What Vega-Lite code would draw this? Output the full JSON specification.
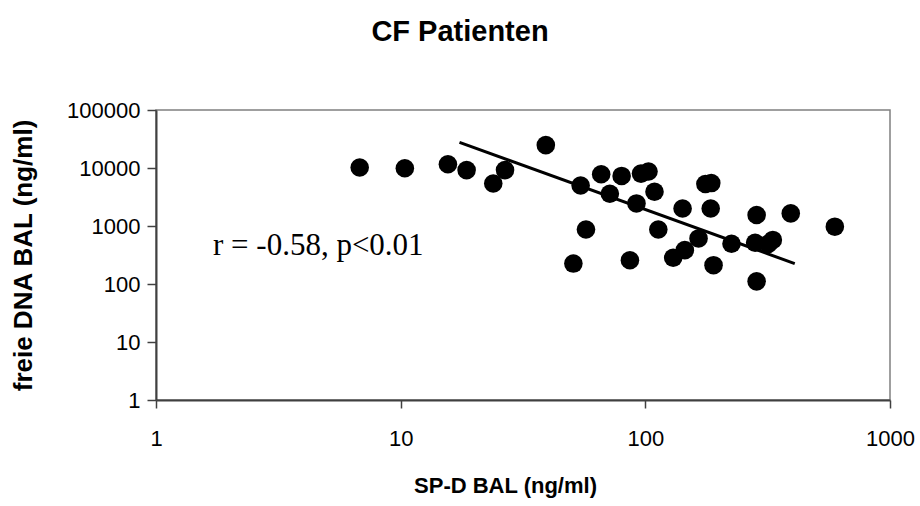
{
  "$schema": "https://vega.github.io/schema/vega-lite/v6.json",
  "width": 734,
  "height": 290,
  "autosize": {"type": "none"},
  "padding": {"left": 156, "top": 110, "right": 30, "bottom": 106},
  "background": "white",
  "config": {
    "view": {"stroke": "#808080", "strokeWidth": 1.5},
    "font": "Liberation Sans"
  },
  "title": {
    "text": "CF Patienten",
    "font": "Liberation Sans",
    "fontSize": 29,
    "fontWeight": "bold",
    "color": "black",
    "anchor": "middle",
    "frame": "group",
    "dx": -63,
    "offset": 52
  },
  "datasets": {
    "points": [
      {"spd": 6.8, "dna": 10200},
      {"spd": 10.4, "dna": 9900},
      {"spd": 15.6, "dna": 11600},
      {"spd": 18.6, "dna": 9200},
      {"spd": 26.7, "dna": 9200},
      {"spd": 23.9, "dna": 5400},
      {"spd": 39.2, "dna": 24800},
      {"spd": 54.4, "dna": 5000},
      {"spd": 66, "dna": 7800},
      {"spd": 71.6, "dna": 3600},
      {"spd": 80, "dna": 7300},
      {"spd": 96, "dna": 8000},
      {"spd": 103, "dna": 8700},
      {"spd": 109, "dna": 3900},
      {"spd": 92, "dna": 2450},
      {"spd": 142, "dna": 2000},
      {"spd": 57.2, "dna": 870},
      {"spd": 113, "dna": 870},
      {"spd": 50.8, "dna": 225},
      {"spd": 86.5, "dna": 257},
      {"spd": 130, "dna": 283},
      {"spd": 145, "dna": 383},
      {"spd": 165, "dna": 610},
      {"spd": 190, "dna": 211},
      {"spd": 176, "dna": 5300},
      {"spd": 186, "dna": 5500},
      {"spd": 185, "dna": 2000},
      {"spd": 225, "dna": 494},
      {"spd": 285, "dna": 1545},
      {"spd": 393, "dna": 1650},
      {"spd": 595, "dna": 973},
      {"spd": 281, "dna": 514},
      {"spd": 318, "dna": 490},
      {"spd": 332, "dna": 575},
      {"spd": 285, "dna": 111}
    ],
    "trend": [
      {"spd": 17.4, "dna": 27600},
      {"spd": 408, "dna": 225}
    ],
    "note": [
      {"spd": 1.71, "dna": 314, "label": "r = -0.58, p<0.01"}
    ]
  },
  "layer": [
    {
      "data": {"name": "points"},
      "mark": {"type": "circle", "size": 346, "color": "black", "opacity": 1},
      "encoding": {
        "x": {
          "field": "spd",
          "type": "quantitative",
          "scale": {"type": "log", "domain": [1, 1000], "nice": false},
          "axis": {
            "title": "SP-D BAL (ng/ml)",
            "values": [1, 10, 100, 1000],
            "format": "d",
            "grid": false,
            "labelFlush": false,
            "domainColor": "#404040",
            "domainWidth": 2,
            "tickColor": "#404040",
            "tickWidth": 1.5,
            "tickSize": 8,
            "labelFont": "Liberation Sans",
            "labelFontSize": 22,
            "labelColor": "black",
            "labelPadding": 20,
            "titleFont": "Liberation Sans",
            "titleFontSize": 22,
            "titleFontWeight": "bold",
            "titleColor": "black",
            "titlePadding": 26,
            "titleX": 349
          }
        },
        "y": {
          "field": "dna",
          "type": "quantitative",
          "scale": {"type": "log", "domain": [1, 100000], "nice": false},
          "axis": {
            "title": "freie DNA BAL (ng/ml)",
            "values": [1, 10, 100, 1000, 10000, 100000],
            "format": "d",
            "grid": false,
            "labelFlush": false,
            "domainColor": "#404040",
            "domainWidth": 2,
            "tickColor": "#404040",
            "tickWidth": 1.5,
            "tickSize": 9,
            "labelFont": "Liberation Sans",
            "labelFontSize": 22,
            "labelColor": "black",
            "labelPadding": 7,
            "titleFont": "Liberation Sans",
            "titleFontSize": 26,
            "titleFontWeight": "bold",
            "titleColor": "black",
            "titlePadding": 30
          }
        }
      }
    },
    {
      "data": {"name": "trend"},
      "mark": {"type": "line", "color": "black", "strokeWidth": 3},
      "encoding": {
        "x": {"field": "spd", "type": "quantitative"},
        "y": {"field": "dna", "type": "quantitative"}
      }
    },
    {
      "data": {"name": "note"},
      "mark": {
        "type": "text",
        "align": "left",
        "baseline": "alphabetic",
        "font": "Liberation Serif",
        "fontSize": 31,
        "color": "black"
      },
      "encoding": {
        "x": {"field": "spd", "type": "quantitative"},
        "y": {"field": "dna", "type": "quantitative"},
        "text": {"field": "label"}
      }
    }
  ]
}
